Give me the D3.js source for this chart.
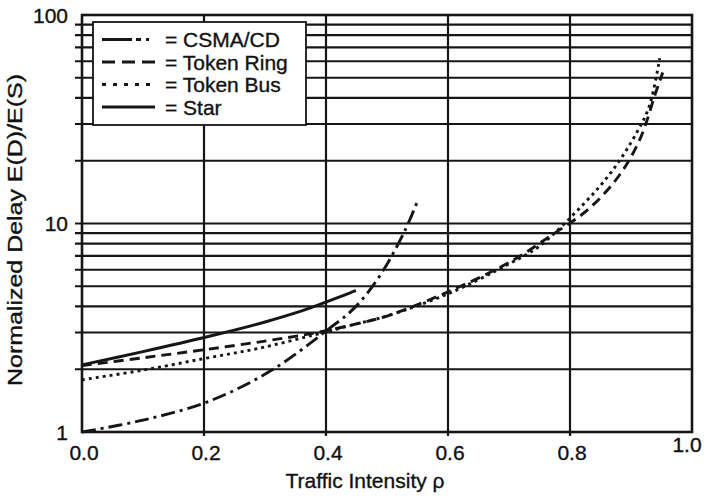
<!DOCTYPE html>
<html>
<head>
<meta charset="utf-8">
<script src="https://cdn.jsdelivr.net/npm/d3@7"></script>
<style>
  body { margin: 0; background: #fff; }
  svg text { font-family: "Liberation Sans", Arial, sans-serif; fill: #111; stroke: #111; stroke-width: 0.35px; }
</style>
</head>
<body>
<svg id="chart" width="705" height="497"></svg>
<script>
// values: [traffic intensity, normalized delay]
const csmaData = [[0, 1.0], [0.1, 1.14], [0.207, 1.4], [0.31, 1.97], [0.4, 3.05], [0.447, 3.95],
                  [0.488, 5.6], [0.529, 9.2], [0.55, 12.8]];
const ringData = [[0, 2.08], [0.1, 2.27], [0.2, 2.48], [0.3, 2.73], [0.38, 2.98], [0.45, 3.3], [0.5, 3.6],
                  [0.6, 4.7], [0.7, 6.5], [0.77, 8.8], [0.83, 11.7], [0.88, 16.9], [0.915, 25.5],
                  [0.94, 42], [0.952, 53]];
const busData  = [[0, 1.78], [0.1, 1.98], [0.2, 2.25], [0.29, 2.52], [0.38, 2.92], [0.45, 3.3], [0.5, 3.6],
                  [0.6, 4.6], [0.7, 6.4], [0.75, 7.8], [0.82, 12.2], [0.87, 18], [0.91, 27.5],
                  [0.93, 36.5], [0.947, 62]];
const starData = [[0, 2.1], [0.1, 2.43], [0.207, 2.87], [0.3, 3.37], [0.365, 3.85], [0.449, 4.77]];

const seriesNames = ["CSMA/CD", "Token Ring", "Token Bus", "Star"];
const xTicks = [0, 0.2, 0.4, 0.6, 0.8, 1.0];
const yLabelTicks = [1, 10, 100];
const yGrid = [2, 3, 4, 5, 6, 7, 8, 9, 10, 20, 30, 40, 50, 60, 70, 80, 90];

const svg = d3.select("#chart");
const plotL = 82, plotR = 692, plotT = 15, plotB = 432;

const x = d3.scaleLinear().domain([0, 1]).range([plotL, plotR]);
const y = d3.scaleLog().domain([1, 100]).range([plotB, plotT]);

const ink = "#161616";

// grid
const grid = svg.append("g");
grid.selectAll("line.h")
  .data(yGrid)
  .join("line")
  .attr("x1", plotL - 7).attr("x2", plotR)
  .attr("y1", d => y(d)).attr("y2", d => y(d))
  .attr("stroke", ink).attr("stroke-width", 2.2);

grid.selectAll("line.v")
  .data(xTicks.slice(1, -1))
  .join("line")
  .attr("x1", d => x(d)).attr("x2", d => x(d))
  .attr("y1", plotT).attr("y2", plotB + 4)
  .attr("stroke", ink).attr("stroke-width", 2.2);

grid.append("rect")
  .attr("x", plotL).attr("y", plotT)
  .attr("width", plotR - plotL).attr("height", plotB - plotT)
  .attr("fill", "none").attr("stroke", ink).attr("stroke-width", 2.6);

// tick labels
svg.append("g").selectAll("text")
  .data(yLabelTicks)
  .join("text")
  .attr("x", 68).attr("y", d => y(d) + 7.5)
  .attr("text-anchor", "end")
  .style("font-size", "21px")
  .text(d => d);

// last label is pushed in so it stays inside the page, as in the picture
svg.append("g").selectAll("text")
  .data(xTicks)
  .join("text")
  .attr("x", d => Math.min(x(d) + 2, 687))
  .attr("y", d => d === 1 ? 452 : 460)
  .attr("text-anchor", "middle")
  .style("font-size", "21px")
  .text(d => d.toFixed(1));

// axis titles
svg.append("text")
  .attr("x", 365).attr("y", 488)
  .attr("text-anchor", "middle")
  .style("font-size", "21px")
  .text("Traffic Intensity ρ");

svg.append("text")
  .attr("transform", "translate(22,230) rotate(-90)")
  .attr("text-anchor", "middle")
  .attr("textLength", 312)
  .attr("lengthAdjust", "spacingAndGlyphs")
  .style("font-size", "21px")
  .text("Normalized Delay E(D)/E(S)");

// curves
const line = d3.line()
  .x(d => x(d[0]))
  .y(d => y(d[1]))
  .curve(d3.curveCatmullRom.alpha(0.5));

const styles = [
  {data: csmaData, dash: "14,5,3,5", legendDash: "30,4,5,5,3,30"},
  {data: ringData, dash: "10,6", legendDash: "13,7"},
  {data: busData, dash: "3,4", legendDash: "4,7"},
  {data: starData, dash: null, legendDash: null}
];

// legend box
const lg = svg.append("g");
lg.append("rect")
  .attr("x", 93).attr("y", 22)
  .attr("width", 213).attr("height", 103)
  .attr("fill", "#fff").attr("stroke", ink).attr("stroke-width", 1.8);

styles.forEach((s, i) => {
  const cy = 39.5 + i * 22.5;
  lg.append("line")
    .attr("x1", 102).attr("x2", 155)
    .attr("y1", cy).attr("y2", cy)
    .attr("stroke", ink).attr("stroke-width", 3)
    .attr("stroke-dasharray", s.legendDash);
  lg.append("text")
    .attr("x", 165).attr("y", cy + 7.5)
    .style("font-size", "21px")
    .text("= " + seriesNames[i]);
});

svg.append("g").selectAll("path")
  .data(styles)
  .join("path")
  .attr("d", d => line(d.data))
  .attr("fill", "none")
  .attr("stroke", ink)
  .attr("stroke-width", 2.9)
  .attr("stroke-dasharray", d => d.dash);
</script>
</body>
</html>
